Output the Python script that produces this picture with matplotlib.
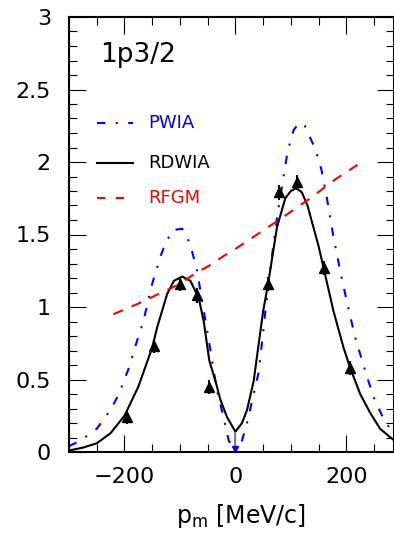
import numpy as np
import matplotlib
matplotlib.use('Agg')
import matplotlib.pyplot as plt

plt.rcParams['font.family'] = ['DejaVu Sans']
plt.rcParams['mathtext.default'] = 'regular'

# RDWIA (solid black)
rdwia_p = [-300, -275, -250, -225, -200, -175, -150, -141, -123, -111, -96, -81, -66, -57,
           -47, -36, -27, -15, 0, 12, 21, 33, 50, 59, 75, 90, 100, 110, 120, 130, 140,
           150, 159, 177, 195, 207, 225, 243, 261, 286]
rdwia_y = [0.01, 0.03, 0.06, 0.13, 0.25, 0.45, 0.72, 0.86, 1.09, 1.18, 1.21, 1.18, 1.06, 0.90,
           0.63, 0.49, 0.36, 0.24, 0.14, 0.20, 0.29, 0.49, 0.97, 1.16, 1.55, 1.75, 1.80, 1.82, 1.79, 1.70, 1.56,
           1.42, 1.27, 0.97, 0.72, 0.58, 0.40, 0.27, 0.16, 0.08]

# PWIA (blue dash-dot)
pwia_p = [-300, -279, -250, -225, -210, -192, -177, -166, -150, -135, -126, -113, -96,
          -82, -69, -60, -51, -33, -22, -12, 0, 12, 21, 30, 42, 51, 60, 76, 94, 105,
          115, 125, 144, 155, 165, 177, 189, 202, 216, 234, 249, 267, 279, 286]
pwia_y = [0.04, 0.08, 0.16, 0.29, 0.40, 0.58, 0.77, 0.90, 1.16, 1.35, 1.44, 1.53, 1.54,
          1.44, 1.25, 1.04, 0.84, 0.42, 0.25, 0.08, 0.0, 0.08, 0.20, 0.35, 0.55, 0.86, 1.18, 1.64, 2.07, 2.22,
          2.27, 2.25, 2.09, 1.95, 1.75, 1.48, 1.25, 1.02, 0.79, 0.56, 0.38, 0.23, 0.16, 0.13]

# RFGM (red dashed)
rfgm_p = [-220, -165, -144, -105, -69, -45, -22, 0, 86, 135, 180, 220]
rfgm_y = [0.95, 1.04, 1.08, 1.15, 1.24, 1.29, 1.35, 1.40, 1.62, 1.75, 1.88, 1.98]

# measured points
data_p = [-195, -147, -99, -69, -47, 59, 78, 112, 159, 207]
data_y = [0.24, 0.73, 1.16, 1.08, 0.45, 1.16, 1.79, 1.86, 1.27, 0.58]
data_err = [0.05, 0.05, 0.05, 0.05, 0.05, 0.05, 0.05, 0.05, 0.05, 0.05]
# upper limit at p = 0
lim_p = 0
lim_y = 0.13

fig = plt.figure(figsize=(3.94, 5.34), dpi=100)
ax = fig.add_axes([69 / 394, 82 / 534, 1 - 69 / 394, 435 / 534])

ax.plot(pwia_p, pwia_y, color='blue', lw=1.5, dashes=(4, 5, 1, 5))
ax.plot(rdwia_p, rdwia_y, color='black', lw=1.5)
ax.plot(rfgm_p, rfgm_y, color='red', lw=1.5, dashes=(5, 4.5))

ax.errorbar(data_p, data_y, yerr=data_err, fmt='^', color='black', ms=7, elinewidth=1.5, capsize=0)
ax.plot([lim_p, lim_p], [0, lim_y], color='grey', lw=1.5)
ax.plot(lim_p, 0.02, 'v', color='blue', ms=4)

# legend drawn by hand, as in the original
ax.plot([-249, -184], [2.27, 2.27], color='blue', lw=1.5, dashes=(4, 5, 1, 5))
ax.plot([-249, -184], [1.99, 1.99], color='black', lw=1.5)
ax.plot([-249, -184], [1.75, 1.75], color='red', lw=1.5, dashes=(4, 5))
ax.text(-157, 2.27, 'PWIA', color='blue', fontsize=13, va='center')
ax.text(-157, 1.99, 'RDWIA', color='black', fontsize=13, va='center')
ax.text(-157, 1.75, 'RFGM', color='red', fontsize=13, va='center')
ax.text(-244, 2.74, '1p3/2', fontsize=19, va='center')

ax.set_xlim(-300, 286)
ax.set_ylim(0, 3)
ax.set_xticks([-200, 0, 200])
ax.set_xticks(np.arange(-300, 300, 50), minor=True)
ax.set_yticks([0, 0.5, 1, 1.5, 2, 2.5, 3])
ax.set_yticklabels(['0', '0.5', '1', '1.5', '2', '2.5', '3'])
ax.set_yticks(np.arange(0, 3.01, 0.1), minor=True)
ax.tick_params(which='both', direction='in', top=True, right=True, width=0.8, labelsize=16)
ax.tick_params(which='major', length=12)
ax.tick_params(which='minor', length=5.5)
ax.tick_params(axis='y', pad=13)
ax.tick_params(axis='x', pad=11)
for s in ax.spines.values():
    s.set_linewidth(1.5)

ax.set_xlabel('p$_m$ [MeV/c]', fontsize=17)
ax.xaxis.set_label_coords(0.53, -0.115)

fig.savefig('out.png', dpi=100)
